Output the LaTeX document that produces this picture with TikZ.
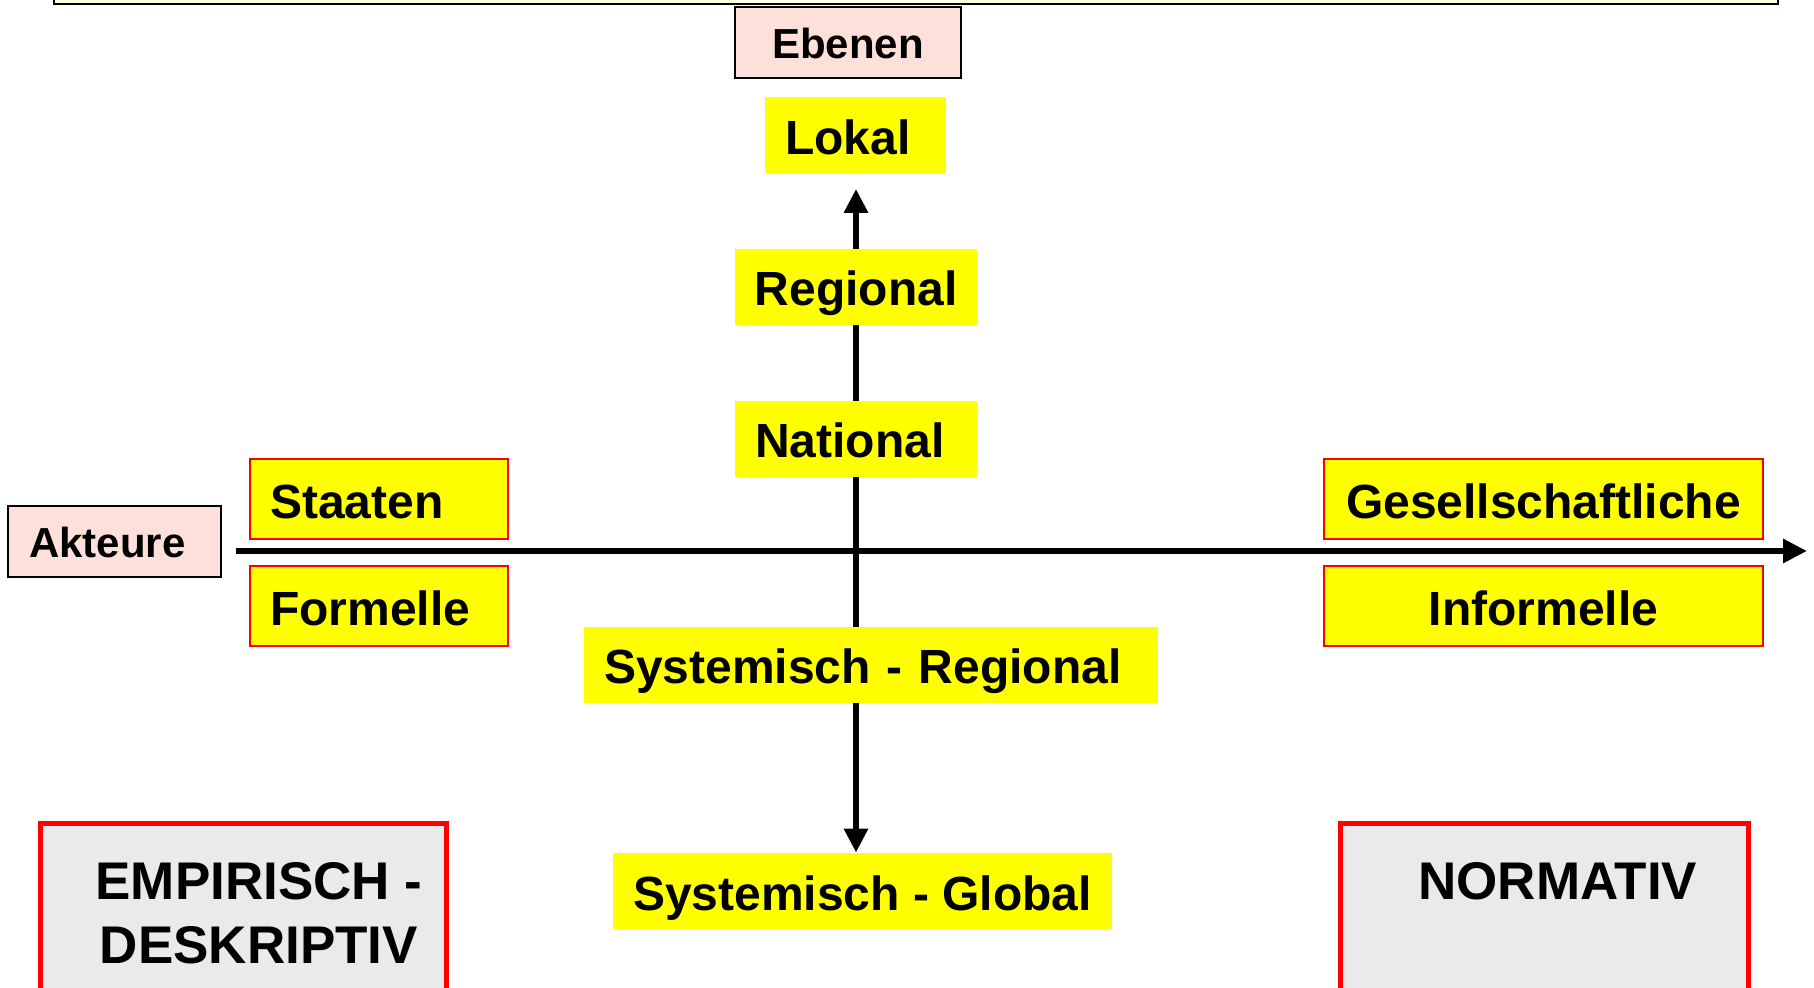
\documentclass[tikz,border=0pt]{standalone}
\usepackage{fontspec}
\setmainfont{Liberation Sans}
\usetikzlibrary{positioning, arrows.meta}
\definecolor{pinkfill}{RGB}{253,224,218}
\definecolor{greyfill}{RGB}{234,234,234}
\definecolor{creamfill}{RGB}{255,255,226}
\definecolor{boxyellow}{RGB}{255,255,0}
\pgfdeclarelayer{background}
\pgfsetlayers{background,main}
\tikzset{
	x=0.5pt, y=-0.5pt, % one unit is one pixel of the page, y runs downwards
	axis/.style={line width=3pt, -{Triangle[length=12pt,width=11.5pt]}}, % the two thick axes
	level/.style={fill=boxyellow, font=\bfseries\fontsize{24}{28}\selectfont, minimum height=38pt, inner xsep=10pt, inner ysep=0pt, text height=23pt, text depth=4pt, align=left}, % yellow boxes without frame
	actor/.style={level, draw=red, line width=1pt, minimum height=40pt}, % yellow boxes with a red frame
	title/.style={draw, line width=1pt, fill=pinkfill, font=\bfseries\fontsize{21}{25}\selectfont, minimum height=35.5pt, inner xsep=10.5pt, inner ysep=0pt, text height=19.5pt, text depth=3.5pt, align=left}, % pink axis names
	bigbox/.style={draw=red, line width=2.5pt, fill=greyfill, minimum height=110pt}, % grey boxes at the bottom
	bigtext/.style={font=\bfseries\fontsize{26.5}{32}\selectfont, align=center, inner sep=0pt}, % their texts
}

\begin{document}
\begin{tikzpicture}
	\useasboundingbox (0,0) rectangle (1814,988);
	\clip (0,0) rectangle (1814,988);
	\node[draw, line width=1pt, fill=creamfill, minimum width=862pt, minimum height=32pt] (header) at (916,-28) {};

	% vertical axis: Ebenen
	\node[title, minimum width=113pt, align=center] (ebenen) at (848,43) {Ebenen};
	\node[level, text width=70.5pt] (lokal) at (855.5,135.5) {Lokal};
	\node[level, minimum width=121pt, align=center] (regional) at (856,287) {Regional};
	\node[level, text width=101pt, below=37.5pt of regional] (national) {National};
	\node[level, text width=267pt] (sysreg) at (871,664.5) {Systemisch - Regional};
	\node[level, minimum width=249.5pt, align=center] (sysglob) at (862.5,891) {Systemisch - Global};

	% horizontal axis: Akteure
	\node[title, text width=85.5pt] (akteure) at (114.5,541.5) {Akteure};
	\node[actor, text width=109pt] (staaten) at (379,499) {Staaten};
	\node[actor, text width=109pt, below=12.5pt of staaten] (formelle) {Formelle};
	\node[actor, minimum width=219.5pt, align=center] (gesell) at (1543.5,499) {Gesellschaftliche};
	\node[actor, minimum width=219.5pt, align=center, below=12.5pt of gesell] (informelle) {Informelle};

	% the two approaches
	\node[bigbox, minimum width=203pt] (empbox) at (243.5,933.5) {};
	\node[bigbox, minimum width=204pt] (normbox) at (1544.5,933.5) {};
	\node[bigtext, anchor=north] (emptext) at (259,862) {EMPIRISCH -\\DESKRIPTIV};
	\node[bigtext, anchor=north west] (normtext) at (1418,862) {NORMATIV};

	\coordinate (origin) at (856,551);
	\coordinate (xstart) at (236,551);
	\coordinate (xend) at (1807,551);
	\begin{pgfonlayer}{background}
		\draw[axis] (xstart) -- (xend);
		\draw[axis, shorten >=7.5pt] (origin) -- (origin |- lokal.south);
		\draw[axis] (origin) -- (origin |- sysglob.north);
	\end{pgfonlayer}
\end{tikzpicture}
\end{document}
